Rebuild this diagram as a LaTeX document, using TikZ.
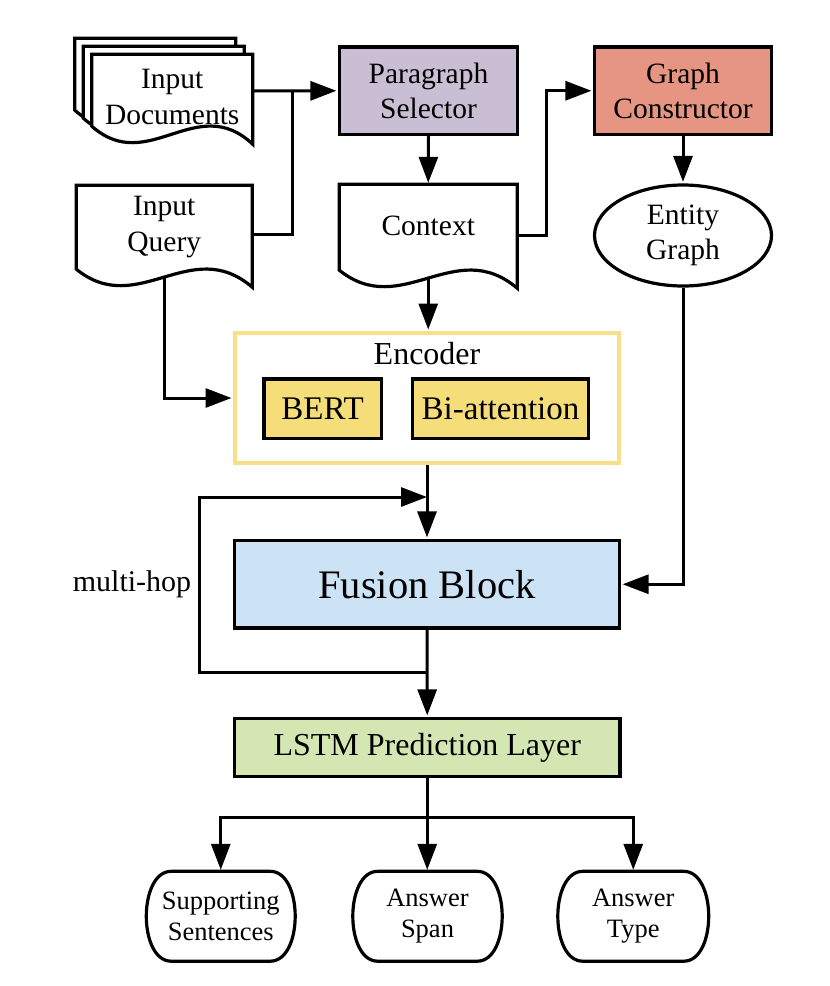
\documentclass[tikz,border=0pt]{standalone}
\usepackage{fontspec}
\setmainfont{Liberation Serif}
\usetikzlibrary{arrows.meta,calc,shapes.geometric,backgrounds}
\definecolor{psfill}{HTML}{CABED5}
\definecolor{gcfill}{HTML}{E69582}
\definecolor{fusfill}{HTML}{CCE2F5}
\definecolor{lstmfill}{HTML}{D4E7B2}
\definecolor{bertfill}{HTML}{F5DD7A}
\definecolor{encline}{HTML}{F8E08B}
\newcommand\docoutline[4]{%
  \draw[outl] let \p1=($(#1.north west)+(#2,#3)$), \p2=($(#1.south east)+(#2,#3)$), \n1={\x2-\x1} in
    (\x1,\y1) -- (\x2,\y1) -- (\x2,\y2+#4pt-18pt)
    .. controls (\x1+0.65*\n1,\y2+#4pt+35pt) and (\x1+0.35*\n1,\y2+#4pt-50pt) .. (\x1,\y2+#4pt) -- cycle;}
\newcommand\termoutline[1]{%
  \draw[outl] let \p1=(#1.north west), \p2=(#1.south east) in
    (\x1+25pt,\y1) -- (\x2-25pt,\y1) .. controls (\x2+8.33pt,\y1) and (\x2+8.33pt,\y2) .. (\x2-25pt,\y2)
    -- (\x1+25pt,\y2) .. controls (\x1-8.33pt,\y2) and (\x1-8.33pt,\y1) .. (\x1+25pt,\y1) -- cycle;}
\begin{document}
\begin{tikzpicture}[x=1pt,y=-1pt,
  box/.style={draw=black, line width=3.2pt, inner sep=2pt, align=center},
  plain/.style={draw=none, inner sep=2pt, align=center},
  outl/.style={draw=black, fill=white, line width=3.2pt, line join=miter},
  txt/.style={font=\fontsize{29.5}{35.5}\selectfont},
  smalltxt/.style={font=\fontsize{26.5}{30.5}\selectfont},
  conn/.style={draw=black, line width=3pt},
  arr/.style={conn, -{Triangle[length=26pt,width=19pt]}, shorten >=1.5pt}]
\useasboundingbox (0,0) rectangle (830,986);

% nodes
\node[box, fill=psfill, minimum width=178pt, minimum height=87.5pt, txt] (ps) at (428.5,90.75) {Paragraph\\Selector};
\node[box, fill=gcfill, minimum width=177pt, minimum height=87.5pt, txt] (gc) at (683,90.75) {Graph\\Constructor};
\node[plain, minimum width=160.5pt, minimum height=85pt, txt] (docs) at (172.25,97) {Input\\Documents};
\node[plain, minimum width=175.5pt, minimum height=83.5pt, txt] (q) at (164.25,227.25) {Input\\Query};
\node[plain, minimum width=177.5pt, minimum height=85.5pt, txt] (ctx) at (428.25,227.25) {\raisebox{3pt}{Context}};
\node[ellipse, draw=black, line width=3.2pt, inner sep=0pt, minimum width=177pt, minimum height=101pt, align=center, txt] (eg) at (683,235.5) {Entity\\Graph};
\node[draw=encline, line width=4pt, minimum width=384pt, minimum height=130pt] (enc) at (427,398) {};
\node[anchor=base, font=\fontsize{32}{38}\selectfont] (enclab) at (427,364) {Encoder};
\node[box, fill=bertfill, minimum width=117.3pt, minimum height=59.5pt, font=\fontsize{33}{40}\selectfont] (bert) at (322.6,408.75) {BERT};
\node[box, fill=bertfill, minimum width=176pt, minimum height=59.5pt, font=\fontsize{33}{40}\selectfont] (bia) at (500.5,408.75) {Bi-attention};
\node[box, fill=fusfill, minimum width=385pt, minimum height=87.5pt, font=\fontsize{40.5}{48}\selectfont] (fus) at (427,584.25) {Fusion Block};
\node[box, fill=lstmfill, minimum width=385.5pt, minimum height=58pt, font=\fontsize{32}{38}\selectfont] (lstm) at (427.25,747.5) {LSTM Prediction Layer};
\node[anchor=base, font=\fontsize{30}{36}\selectfont] (mh) at (132,591) {multi-hop};
\node[plain, minimum width=148.5pt, minimum height=89.5pt, smalltxt] (o1) at (220.75,916.25) {Supporting\\Sentences};
\node[plain, minimum width=149pt, minimum height=89.5pt, smalltxt] (o2) at (427.5,916.25) {Answer\\Span};
\node[plain, minimum width=150.5pt, minimum height=89.5pt, smalltxt] (o3) at (633.25,916.25) {Answer\\Type};

% outlines behind the texts
\begin{scope}[on background layer]
  \docoutline{docs}{-17}{-16}{13.5}
  \docoutline{docs}{-8.5}{-8}{13.5}
  \docoutline{docs}{0}{0}{13.5}
  \docoutline{q}{0}{0}{0}
  \docoutline{ctx}{0}{0}{0}
  \termoutline{o1}
  \termoutline{o2}
  \termoutline{o3}
\end{scope}

% helper coordinates
\coordinate (j1) at (292.5,91);
\coordinate (hopB) at (427,672.5);
\coordinate (hopL) at (199.5,672.5);
\coordinate (hopT) at (199.5,497);
\coordinate (hopR) at (427,497);
\coordinate (split) at (427.25,817);

% connectors
\draw[arr] ($(docs.east)+(0,-6)$) -- (ps.west);
\draw[conn] ($(q.east)+(0,7)$) -| (j1);
\draw[arr] (ps.south) -- (ctx.north);
\draw[arr] ($(ctx.east)+(0,8)$) -- ++(29.5,0) |- (gc.west);
\draw[arr] (gc.south) -- (eg.north);
\draw[arr] (eg.south) |- (fus.east);
\draw[arr] ($(ctx.south)+(0,8)$) -- (ctx.south |- enc.north);
\draw[arr] ($(q.south)+(0,8)$) |- (enc.west);
\draw[arr] (enc.south) -- (fus.north);
\draw[arr, shorten >=0pt] (hopB) -- (hopL) -- (hopT) -- (hopR);
\draw[arr] (fus.south) -- (lstm.north);
\draw[conn] (lstm.south) -- (split);
\draw[arr] (split) -- (o2.north -| split);
\draw[arr] (split) -| (o1.north);
\draw[arr] (split) -| (o3.north);
\end{tikzpicture}
\end{document}
